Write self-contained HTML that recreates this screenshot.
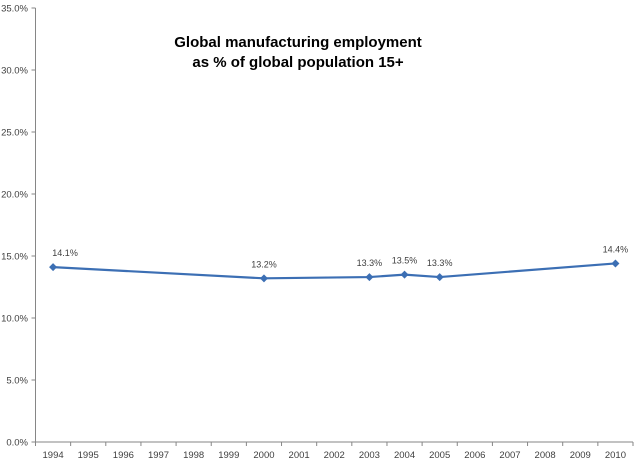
<!DOCTYPE html>
<html><head><meta charset="utf-8"><style>
body{margin:0;background:#fff;}
svg{display:block;font-family:"Liberation Sans",sans-serif;}
</style></head><body>
<svg id="chart" width="640" height="464">
<text x="298" y="47" text-anchor="middle" font-size="15" font-weight="bold" fill="#000">Global manufacturing employment</text>
<text x="298" y="67" text-anchor="middle" font-size="15" font-weight="bold" fill="#000">as % of global population 15+</text>
<g id="axes"></g>
<g id="series"></g>
</svg>
<script>
const categories=["1994","1995","1996","1997","1998","1999","2000","2001","2002","2003","2004","2005","2006","2007","2008","2009","2010"];
const pointYears=["1994","2000","2003","2004","2005","2010"];
const pointValues=[14.1,13.2,13.3,13.5,13.3,14.4];
const yTicks=[0,5,10,15,20,25,30,35];
const NS="http://www.w3.org/2000/svg";
const L=35.5,R=633,T=8,B=442,ymax=35;
const cw=(R-L)/categories.length;
const xs=c=>L+cw*(categories.indexOf(c)+0.5);
const ys=v=>B-(v/ymax)*(B-T);
function mk(tag,attrs,parent){const e=document.createElementNS(NS,tag);for(const k in attrs)e.setAttribute(k,attrs[k]);parent.appendChild(e);return e;}
const ax=document.getElementById('axes'),se=document.getElementById('series');
let yl=mk('line',{x1:L,y1:T,x2:L,y2:B,stroke:'#868686'},ax);


let xl=mk('line',{x1:L,y1:B,x2:R,y2:B,stroke:'#868686'},ax);


yTicks.forEach(v=>{
  const y=ys(v);
  mk('line',{x1:L-4,y1:y,x2:L,y2:y,stroke:'#868686'},ax);
  const t=mk('text',{x:28,y:y+3.5,'text-anchor':'end','font-size':'9.5',fill:'#404040'},ax);
  t.textContent=v.toFixed(1)+'%';
  
  
});
for(let i=0;i<=categories.length;i++){const x=L+cw*i;mk('line',{x1:x,y1:B,x2:x,y2:B+4,stroke:'#868686'},ax);}
categories.forEach(c=>{
  const t=mk('text',{x:xs(c),y:458,'text-anchor':'middle','font-size':'9.5',fill:'#404040'},ax);
  t.textContent=c;
  
  
});
const pts=pointYears.map((c,i)=>[xs(c),ys(pointValues[i])]);
const pl=mk('polyline',{points:pts.map(p=>p.join(',')).join(' '),fill:'none',stroke:'#3c6fb4','stroke-width':2.2},se);


pts.forEach((p,i)=>{
  const m=mk('path',{d:`M${p[0]},${p[1]-4}L${p[0]+4},${p[1]}L${p[0]},${p[1]+4}L${p[0]-4},${p[1]}Z`,fill:'#3c6fb4'},se);
  
  
  const t=mk('text',{x:p[0]+(i==0?12:0),y:p[1]-11,'text-anchor':'middle','font-size':'9',fill:'#404040'},se);
  t.textContent=pointValues[i].toFixed(1)+'%';
  
  
});
</script>
</body></html>
